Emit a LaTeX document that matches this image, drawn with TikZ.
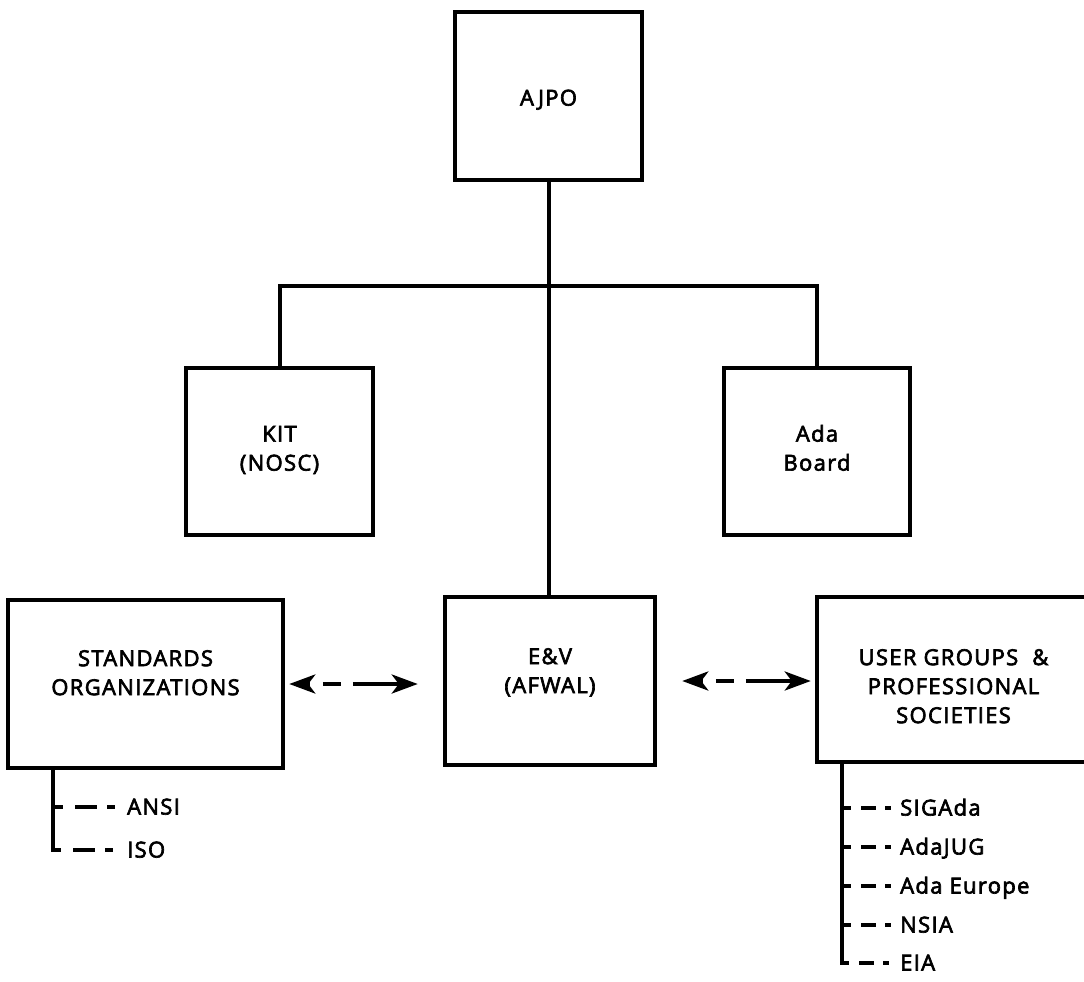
\documentclass[tikz,border=0pt]{standalone}
\usepackage{fontspec}
\setmainfont{Open Sans}[LetterSpace=6, FakeBold=3]
\usetikzlibrary{arrows.meta}
\newcommand\boxfont{\fontsize{22}{29}\selectfont}
\newcommand\itemfont{\fontsize{22}{25}\selectfont}
\newcommand\boxtext[2]{\raisebox{#1}[0pt][0pt]{\begin{tabular}{@{}c@{}}#2\end{tabular}}}
\begin{document}
\begin{tikzpicture}[x=1pt,y=-1pt,
  box/.style={draw, line width=4.5pt, rectangle, inner sep=0pt, font=\boxfont},
  conn/.style={line width=4pt},
  tipshape/.tip={Stealth[length=26pt,width=19pt,inset=7pt]},
  dasharrow/.style={line width=4pt, tipshape-tipshape},
  stdbranch/.style={line width=4pt, dash pattern=on 10pt off 12pt on 22pt off 10pt on 8pt off 200pt},
  usrbranch/.style={line width=4pt, dash pattern=on 9pt off 10pt on 15pt off 9pt on 6pt off 200pt},
  item/.style={anchor=west, inner sep=0pt, text height=15pt, text depth=0pt, font=\itemfont}]
\useasboundingbox (0,0) rectangle (1084,982);
\clip (0,0) rectangle (1084,982);

% boxes
\node[box, minimum width=187pt, minimum height=168pt] (AJPO) at (548.5,96) {\boxtext{-9pt}{AJPO}};
\node[box, minimum width=187pt, minimum height=167pt] (KIT) at (279.5,451.5) {\boxtext{-4pt}{KIT\\(NOSC)}};
\node[box, minimum width=186pt, minimum height=167pt] (ADA) at (817,451.5) {\boxtext{-4pt}{Ada\\Board}};
\node[box, minimum width=275pt, minimum height=168pt] (STD) at (145.5,684) {\boxtext{4pt}{STANDARDS\\ORGANIZATIONS}};
\node[box, minimum width=210pt, minimum height=168pt] (EV) at (550,681) {\boxtext{3pt}{E\&V\\(AFWAL)}};
\node[box, minimum width=273pt, minimum height=165pt] (USR) at (953.5,679.5) {\boxtext{-14pt}{USER GROUPS~~\&\\PROFESSIONAL\\SOCIETIES}};

% tree connectors
\coordinate (hub) at (548,286);
\draw[conn] (AJPO.south) -- (AJPO.south |- EV.north);
\draw[conn] (KIT.north) |- (hub) -| (ADA.north);

% dashed double arrows
\draw[dasharrow, dash pattern=on 3pt off 13pt on 18pt off 12pt on 200pt, shorten <=4pt, shorten >=25pt] (STD.east) -- (STD.east -| EV.west);
\draw[dasharrow, dash pattern=on 3pt off 13pt on 18pt off 12pt on 200pt, shorten <=25pt, shorten >=4pt] (EV.east) -- (EV.east -| USR.west);

% standards list
\coordinate (sbx) at (53,0);
\node[item] (ANSI) at (127,807) {ANSI};
\node[item] (ISO) at (127,850) {ISO};
\draw[conn] (STD.south -| sbx) -- (sbx |- ISO.west);
\draw[stdbranch] (sbx |- ANSI.west) -- (ANSI.west);
\draw[stdbranch] ([xshift=-2pt]sbx |- ISO.west) -- (ISO.west);

% user groups list
\coordinate (ubx) at (842,0);
\node[item] (SIG) at (900,808) {SIGAda};
\node[item] (JUG) at (900,847) {AdaJUG};
\node[item] (EUR) at (900,886) {Ada Europe};
\node[item] (NSIA) at (900,925) {NSIA};
\node[item] (EIA) at (900,963) {EIA};
\draw[conn] (USR.south -| ubx) -- (ubx |- EIA.west);
\draw[usrbranch] (ubx |- SIG.west) -- (SIG.west);
\draw[usrbranch] (ubx |- JUG.west) -- (JUG.west);
\draw[usrbranch] (ubx |- EUR.west) -- (EUR.west);
\draw[usrbranch] (ubx |- NSIA.west) -- (NSIA.west);
\draw[usrbranch] ([xshift=-2pt]ubx |- EIA.west) -- (EIA.west);
\end{tikzpicture}
\end{document}
